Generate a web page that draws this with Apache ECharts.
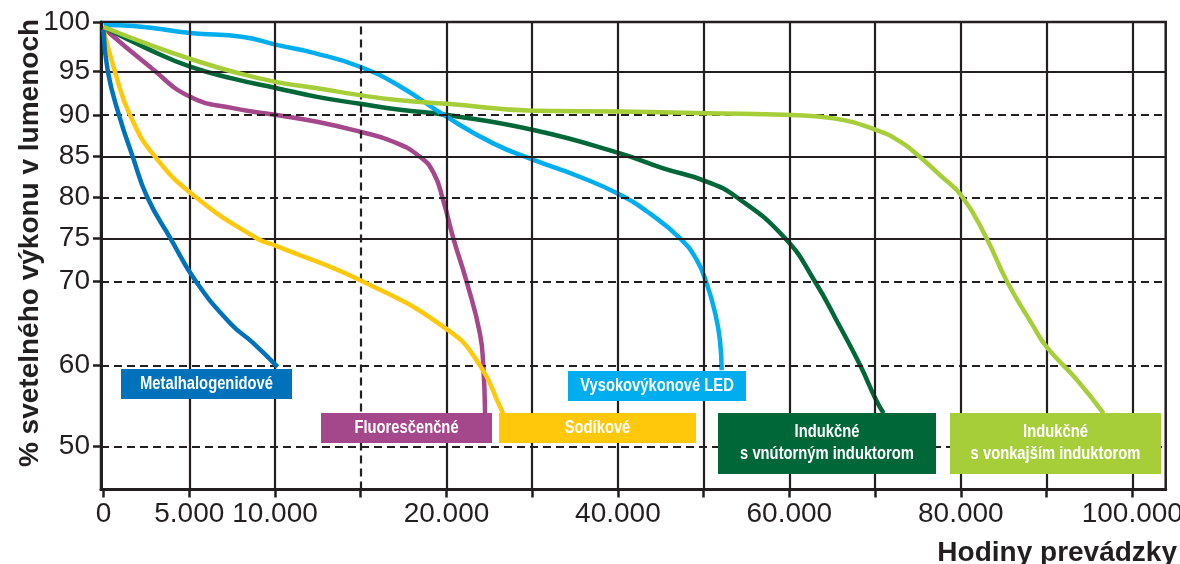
<!DOCTYPE html>
<html><head><meta charset="utf-8">
<script src="https://cdn.jsdelivr.net/npm/echarts@6/dist/echarts.min.js"></script>
<style>html,body{margin:0;padding:0;background:#fff;overflow:hidden}#c{width:1180px;height:564px}</style>
</head><body><div id="c"></div>
<script>
// ---- data (hours of operation, % luminous output) ----
const metalHours = [0, 250, 900, 1700, 2550, 3900, 5400, 7400, 8700, 10150];
const metalPct   = [99.2, 95, 90, 85, 80, 75, 70, 65, 62.7, 59.8];

const sodiumHours = [0, 665, 1540, 3000, 5390, 8930, 10100, 15150, 20200, 23900, 26250, 26600];
const sodiumPct   = [99.2, 95, 90, 85, 80, 75, 74.1, 70, 64.2, 60, 54.9, 54.1];

const fluoHours = [0, 2700, 5050, 7550, 10100, 12450, 14950, 16900, 18450, 19250, 19800, 20800, 22350, 23900, 24300, 24500];
const fluoPct   = [99.4, 95.5, 92.1, 90.8, 90, 89.2, 88, 86.8, 85, 83, 79.7, 75, 70, 63.8, 59.8, 54.1];

const ledHours = [0, 1750, 5050, 8150, 10100, 12250, 14950, 17300, 20000, 25450, 30150, 35600, 40250, 43750, 47250, 49200, 50350, 51350, 51900, 52100];
const ledPct   = [99.7, 99.6, 98.9, 98.5, 97.7, 96.9, 95.5, 93.3, 89.8, 86.6, 84.6, 82.5, 80.3, 78.0, 75.0, 72.5, 69.8, 66.2, 63.0, 59.4];

const innerHours = [0, 2700, 5050, 7550, 10100, 12450, 14950, 17300, 20050, 30150, 40250, 45200, 50200, 53860, 59500, 63000, 65700, 68260, 70130, 71000];
const innerPct   = [99.5, 97.2, 95.5, 94.2, 93.1, 92.1, 91.3, 90.6, 90, 88.2, 85.4, 83.6, 82, 80, 75, 70, 65, 60, 55.7, 54.1];

const outerHours = [0, 2700, 5050, 7550, 10100, 12450, 14950, 17300, 20050, 30150, 40250, 50200, 60300, 65150, 70150, 72930, 75200, 77600, 80150, 83000, 85400, 88500, 90000, 93550, 96650];
const outerPct   = [99.5, 97.7, 96.3, 95, 93.8, 93.1, 92.3, 91.7, 91.3, 90.5, 90.4, 90.2, 90, 89.6, 88.2, 86.8, 85, 82.7, 80.1, 75, 70, 64.6, 62.2, 58.2, 54.1];

// tick labels
const xTickHours  = [0, 5000, 10000, 20000, 40000, 60000, 80000, 100000];
const xTickLabels = ['0', '5.000', '10.000', '20.000', '40.000', '60.000', '80.000', '100.000'];
const xGridHours  = [5000, 10000, 15000, 20000, 30000, 40000, 50000, 60000, 70000, 80000, 90000, 100000];
const yTickVals   = [50, 60, 70, 75, 80, 85, 90, 95, 100];
const yTickLabels = ['50', '60', '70', '75', '80', '85', '90', '95', '100'];

const seriesNames = ['Metalhalogenidové', 'Fluoresčenčné', 'Sodíkové', 'Vysokovýkonové LED',
  'Indukčné s vnútorným induktorom', 'Indukčné s vonkajším induktorom'];

// ---- axis scales (the printed chart's axes are piecewise) ----
const xIdx = h => h <= 20000 ? h / 5000 : 4 + (h - 20000) / 10000;
const yScaleAt = [50, 59.81, 69.88, 75.11, 80.05, 84.94, 89.96, 95.18, 101.17];
function yMap(v) {
  const t = yTickVals;
  if (v <= t[0]) return yScaleAt[0] + (v - t[0]) * (yScaleAt[1] - yScaleAt[0]) / (t[1] - t[0]);
  for (let i = 1; i < t.length; i++) {
    if (v <= t[i]) return yScaleAt[i - 1] + (v - t[i - 1]) * (yScaleAt[i] - yScaleAt[i - 1]) / (t[i] - t[i - 1]);
  }
  return yScaleAt[yScaleAt.length - 1];
}
const pts = (hs, ps) => hs.map((h, i) => [xIdx(h), yMap(ps[i])]);

const INK = '#231f20';
const FONT = '"Liberation Sans", Arial, Helvetica, sans-serif';
const colors = {
  metal: '#0072bc', fluo: '#a5478b', sodium: '#ffc80b', led: '#00aeef', inner: '#006838', outer: '#a6ce39'
};

const dashedY = [50, 60, 70, 80, 90];
const gridLines = [];
xGridHours.forEach(h => gridLines.push({ xAxis: xIdx(h), lineStyle: { type: h === 15000 ? [8, 5] : 'solid' } }));
yTickVals.forEach(v => gridLines.push({ yAxis: yMap(v), lineStyle: { type: dashedY.includes(v) ? [8, 5] : 'solid' } }));

function nearestLabel(val, positions, labels) {
  let best = 0, bd = Infinity;
  positions.forEach((p, i) => { const d = Math.abs(p - val); if (d < bd) { bd = d; best = i; } });
  return labels[best];
}
const xLabelPos = xTickHours.map(xIdx);
const yLabelPos = yTickVals.map(yMap);

function line(name, data, color, z) {
  return {
    type: 'line', name, data, smooth: 0.5, showSymbol: false, symbol: 'none', z,
    lineStyle: { color, width: 4.5, cap: 'butt', join: 'round' }, silent: true, animation: false
  };
}

const chart = echarts.init(document.getElementById('c'), null, { renderer: 'canvas' });

function box(x, y, w, h, color, lines) {
  const children = [{ type: 'rect', z: 100, shape: { x: 0, y: 0, width: w, height: h }, style: { fill: color } }];
  const lh = 22;
  lines.forEach((t, i) => {
    children.push({
      type: 'text', z: 101, x: w / 2, y: h / 2 + (i - (lines.length - 1) / 2) * lh, scaleX: 0.82,
      style: { text: t, fill: '#fff', font: 'bold 18px ' + FONT, align: 'center', verticalAlign: 'middle' }
    });
  });
  return { type: 'group', x, y, z: 100, children };
}

chart.setOption({
  animation: false,
  backgroundColor: '#fff',
  grid: { left: 101, right: 14.3, top: 22, bottom: 74.4, show: true, borderColor: INK, borderWidth: 2.5,
    containLabel: false, outerBoundsMode: 'none' },
  xAxis: {
    type: 'value', min: -0.03, max: 12.39,
    axisLine: { show: true, onZero: false, lineStyle: { color: INK, width: 3 } },
    axisTick: { show: true, customValues: xGridHours.map(xIdx).concat([0]), length: 8, inside: false, lineStyle: { color: INK, width: 2.5 } },
    axisLabel: { customValues: xLabelPos, formatter: v => nearestLabel(v, xLabelPos, xTickLabels), color: INK, fontSize: 28, fontFamily: FONT, margin: 11 },
    splitLine: { show: false }
  },
  yAxis: {
    type: 'value', min: 44.83, max: 101.17,
    axisLine: { show: true, onZero: false, lineStyle: { color: INK, width: 3 } },
    axisTick: { show: true, customValues: yLabelPos, length: 8, inside: false, lineStyle: { color: INK, width: 2.5 } },
    axisLabel: { customValues: yLabelPos, formatter: v => nearestLabel(v, yLabelPos, yTickLabels), color: INK, fontSize: 28, fontFamily: FONT, margin: 11 },
    splitLine: { show: false }
  },
  graphic: [
    { type: 'text', z: 100, x: 30, y: 243, rotation: Math.PI / 2, style: { text: '% svetelného výkonu v lumenoch', fill: INK, font: 'bold 28px ' + FONT, align: 'center', verticalAlign: 'middle' } },
    { type: 'text', z: 100, x: 1177, y: 553, style: { text: 'Hodiny prevádzky', fill: INK, font: 'bold 28px ' + FONT, align: 'right', verticalAlign: 'middle' } },
    box(121, 369, 171, 30, colors.metal, [seriesNames[0]]),
    box(321, 413, 171, 30, colors.fluo, [seriesNames[1]]),
    box(499, 413, 197, 30, colors.sodium, [seriesNames[2]]),
    box(568, 371, 178, 30, colors.led, [seriesNames[3]]),
    box(718, 413, 218, 61, colors.inner, ['Indukčné', 's vnútorným induktorom']),
    box(950, 413, 211, 61, colors.outer, ['Indukčné', 's vonkajším induktorom'])
  ],
  series: [
    {
      type: 'line', data: [], z: 1, silent: true, animation: false,
      markLine: { silent: true, symbol: ['none', 'none'], label: { show: false }, animation: false,
        lineStyle: { color: INK, width: 2.2 }, emphasis: { disabled: true }, data: gridLines }
    },
    line(seriesNames[1], pts(fluoHours, fluoPct), colors.fluo, 3),
    line(seriesNames[4], pts(innerHours, innerPct), colors.inner, 3),
    line(seriesNames[3], pts(ledHours, ledPct), colors.led, 4),
    line(seriesNames[5], pts(outerHours, outerPct), colors.outer, 5),
    line(seriesNames[2], pts(sodiumHours, sodiumPct), colors.sodium, 6),
    line(seriesNames[0], pts(metalHours, metalPct), colors.metal, 7)
  ]
});
</script>
</body></html>
